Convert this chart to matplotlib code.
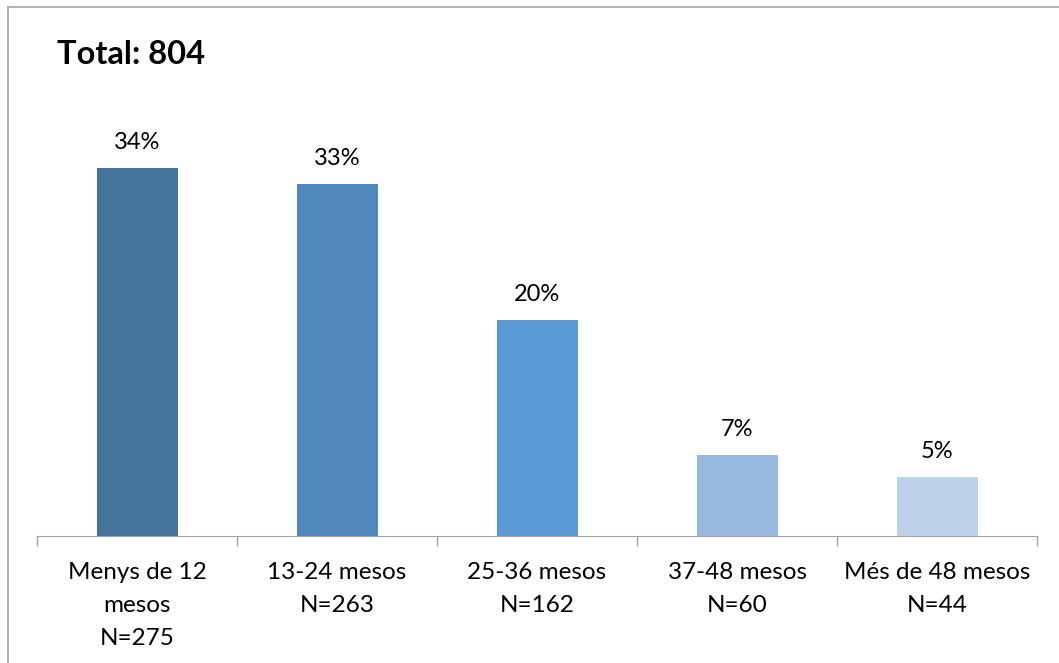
"""Bar chart: distribution by months (Total: 804)."""
import matplotlib
matplotlib.use("Agg")
import matplotlib.pyplot as plt
from matplotlib.lines import Line2D

# ---------- data -----------------------------------------------------------
categories = ["Menys de 12\nmesos\nN=275", "13-24 mesos\nN=263", "25-36 mesos\nN=162",
              "37-48 mesos\nN=60", "Més de 48 mesos\nN=44"]
values = [34.2, 32.7, 20.1, 7.5, 5.5]
value_labels = ["34%", "33%", "20%", "7%", "5%"]
colors = ["#44739c", "#4f89bb", "#5b9bd5", "#97b9e0", "#bdd1ea"]
title = "Total: 804"

plt.rcParams["font.family"] = ["Lato", "DejaVu Sans"]

W, H = 1059, 663
fig = plt.figure(figsize=(W / 100, H / 100), dpi=100)
ax = fig.add_axes([37 / W, 127 / H, 1000 / W, 436 / H])

x = list(range(len(values)))
ax.bar(x, values, width=0.405, color=colors)
ax.set_xlim(-0.5, len(values) - 0.5)
ax.set_ylim(0, 436 / 10.76)

for xi, v, lab in zip(x, values, value_labels):
    ax.annotate(lab, (xi, v), textcoords="offset points", xytext=(0, 18.5),
                ha="center", va="center", fontsize=17, color="#000000")

# category boundaries as ticks, labels at centres
ax.set_xticks([i - 0.5 for i in range(len(values) + 1)])
ax.set_xticklabels([])
ax.tick_params(axis="x", which="major", length=7, color="#a0a0a0", width=1)
ax.set_xticks(x, minor=True)
ax.set_xticklabels(categories, minor=True, fontsize=17.5, linespacing=1.7)
ax.tick_params(axis="x", which="minor", length=0, pad=19)
ax.set_yticks([])

for s in ("top", "left", "right"):
    ax.spines[s].set_visible(False)
ax.spines["bottom"].set_color("#a0a0a0")

fig.text(57 / W, 1 - 55 / H, title, fontsize=23.5, fontweight="bold",
         ha="left", va="center")

# outer chart frame (only top and left edges visible)
fig.add_artist(Line2D([8 / W, 1], [1 - 7 / H, 1 - 7 / H], color="#a6a6a6", lw=1.2,
                      transform=fig.transFigure))
fig.add_artist(Line2D([8 / W, 8 / W], [0, 1 - 7 / H], color="#a6a6a6", lw=1.2,
                      transform=fig.transFigure))

fig.savefig("out.png", dpi=100)
